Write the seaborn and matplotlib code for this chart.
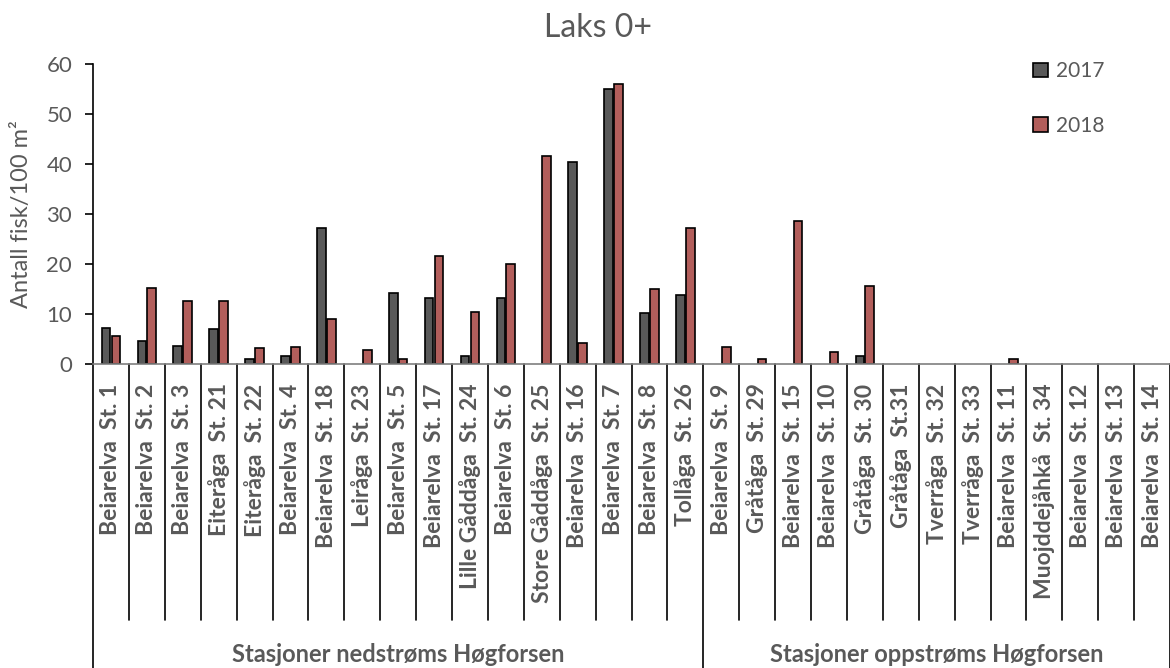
import pandas as pd
import numpy as np
import matplotlib.pyplot as plt
import seaborn as sns

################ DATA ################
stations = [
    "Beiarelva  St. 1", "Beiarelva  St. 2", "Beiarelva  St. 3", "Eiteråga  St. 21",
    "Eiteråga  St. 22", "Beiarelva  St. 4", "Beiarelva  St. 18", "Leiråga  St. 23",
    "Beiarelva  St. 5", "Beiarelva  St. 17", "Lille Gåddåga  St. 24", "Beiarelva  St. 6",
    "Store Gåddåga  St. 25", "Beiarelva  St. 16", "Beiarelva  St. 7", "Beiarelva  St. 8",
    "Tollåga  St. 26",
    "Beiarelva  St. 9", "Gråtåga  St. 29", "Beiarelva  St. 15", "Beiarelva  St. 10",
    "Gråtåga  St. 30", "Gråtåga  St.31", "Tverråga  St. 32", "Tverråga  St. 33",
    "Beiarelva  St. 11", "Muojddejåhkå  St. 34", "Beiarelva  St. 12", "Beiarelva  St. 13",
    "Beiarelva  St. 14",
]
vals_2017 = [7.3, 4.6, 3.6, 7.1, 1.0, 1.7, 27.3, 0, 14.3, 13.3, 1.6, 13.2, 0, 40.5, 55.0, 10.3,
             13.9, 0, 0, 0, 0, 1.7, 0, 0, 0, 0, 0, 0, 0, 0]
vals_2018 = [5.6, 15.3, 12.6, 12.7, 3.3, 3.5, 9.1, 2.9, 1.0, 21.7, 10.5, 20.0, 41.7, 4.3, 56.1, 15.0,
             27.3, 3.5, 1.1, 28.7, 2.5, 15.7, 0, 0, 0, 1.1, 0, 0, 0, 0]
groups = ["Stasjoner nedstrøms Høgforsen", "Stasjoner oppstrøms Høgforsen"]
group_sizes = [17, 13]

df = pd.DataFrame({
    "station": stations * 2,
    "year": ["2017"] * len(stations) + ["2018"] * len(stations),
    "value": vals_2017 + vals_2018,
})

################ STYLE ################
sns.set_style("white")
plt.rcParams['font.family'] = ['Lato', 'DejaVu Sans']
grey = "#595959"

fig = plt.figure(figsize=(11.7, 6.68), dpi=100)
ax = fig.add_axes([93 / 1170, 304 / 668, 1077 / 1170, 300 / 668])

sns.barplot(
    data=df, x="station", y="value", hue="year",
    palette={"2017": "#595959", "2018": "#C0504D"},
    edgecolor="black", linewidth=1.2,
    width=0.55, gap=0.12, ax=ax,
)

# no outline for empty bars
for cont in ax.containers:
    for p in cont:
        if p.get_height() == 0:
            p.set_linewidth(0)

ax.set_ylim(0, 60)
ax.set_xlim(-0.5, len(stations) - 0.5)
ax.set_yticks(range(0, 61, 10))
ax.set_xlabel("")
ax.set_ylabel("Antall fisk/100 m²", fontsize=17, color=grey)
ax.yaxis.set_label_coords(-61 / 1077, 0.5)

for s in ["top", "right"]:
    ax.spines[s].set_visible(False)
ax.spines["left"].set_color("black")
ax.spines["left"].set_linewidth(1.2)
ax.spines["bottom"].set_color("#7f7f7f")
ax.spines["bottom"].set_linewidth(1.2)

ax.tick_params(axis="y", direction="out", length=6, width=1.2, colors="black",
               labelcolor=grey, labelsize=16, left=True, pad=9)
ax.tick_params(axis="x", length=0, pad=14, labelsize=16.5, labelcolor=grey)
plt.setp(ax.get_xticklabels(), rotation=90, fontweight="bold")

# category separator lines below the axis
trans = ax.get_xaxis_transform()
bounds = np.arange(len(stations) + 1) - 0.5
group_edges = np.concatenate([[0], np.cumsum(group_sizes)]) - 0.5
for b in bounds:
    low = -1.02 if np.isclose(group_edges, b).any() else -0.853
    ax.plot([b, b], [0, low], transform=trans, color="black", lw=1.2, clip_on=False)

# group labels
for i, g in enumerate(groups):
    xc = (group_edges[i] + group_edges[i + 1]) / 2
    ax.text(xc, -0.967, g, transform=trans, ha="center", va="center",
            fontsize=17, fontweight="bold", color=grey)

# title and legend
fig.text(598 / 1170, 1 - 28 / 668, "Laks 0+", ha="center", va="center", fontsize=23, color=grey)
handles, labels = ax.get_legend_handles_labels()
leg = ax.legend(handles, labels, frameon=False, loc="upper left",
                bbox_to_anchor=(1023 / 1170, 1 - 51 / 668), bbox_transform=fig.transFigure,
                fontsize=15, labelcolor=grey, handlelength=0.7, handleheight=0.7,
                handletextpad=0.4, labelspacing=1.65, borderpad=0)
for h in leg.legend_handles:
    h.set_edgecolor("black")
    h.set_linewidth(1.2)

fig.savefig("out.png", dpi=100)
